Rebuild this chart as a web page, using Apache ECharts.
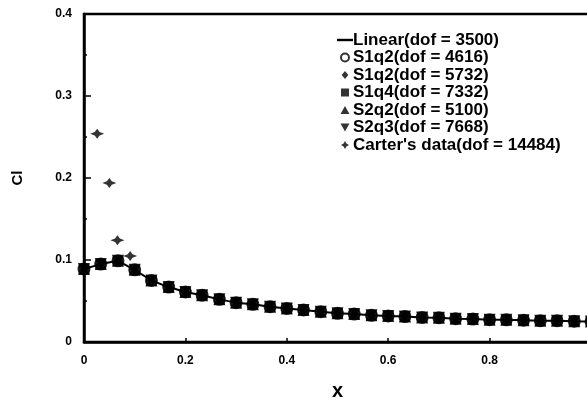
<!DOCTYPE html>
<html>
<head>
<meta charset="utf-8">
<script src="https://cdn.jsdelivr.net/npm/echarts@6/dist/echarts.min.js"></script>
<style>
  html, body { margin: 0; padding: 0; background: #fff; }
  #chart { width: 587px; height: 400px; }
</style>
</head>
<body>
<div id="chart"></div>
<script>
// Lift coefficient along the span, x = 0 .. 1 (stations every 1/30)
const xStations = [
  0, 0.033, 0.067, 0.1, 0.133, 0.167, 0.2, 0.233, 0.267, 0.3,
  0.333, 0.367, 0.4, 0.433, 0.467, 0.5, 0.533, 0.567, 0.6, 0.633,
  0.667, 0.7, 0.733, 0.767, 0.8, 0.833, 0.867, 0.9, 0.933, 0.967, 1
];
// All six discretisations coincide at plotting resolution
const clComputed = [
  0.089, 0.095, 0.099, 0.088, 0.075, 0.067, 0.061, 0.057, 0.052, 0.048,
  0.046, 0.043, 0.041, 0.039, 0.037, 0.035, 0.034, 0.0325, 0.0318, 0.031,
  0.030, 0.0296, 0.0285, 0.028, 0.0272, 0.027, 0.0265, 0.026, 0.026, 0.0253, 0.025
];
// Reference measurements
const carterX = [0.026, 0.05, 0.066, 0.091];
const carterCl = [0.254, 0.194, 0.124, 0.105];

const seriesNames = [
  'Linear(dof = 3500)',
  'S1q2(dof = 4616)',
  'S1q2(dof = 5732)',
  'S1q4(dof = 7332)',
  'S2q2(dof = 5100)',
  'S2q3(dof = 7668)',
  "Carter's data(dof = 14484)"
];
const xTicks = ['0', '0.2', '0.4', '0.6', '0.8', '1'];
const yTicks = ['0', '0.1', '0.2', '0.3', '0.4'];

const ink = '#000';
const starPath = 'path://M0,-10 L3.5,-3.5 L10,0 L3.5,3.5 L0,10 L-3.5,3.5 L-10,0 L-3.5,-3.5 Z';
const diamondPath = 'path://M5,0 L10,6 L5,12 L0,6 Z';
const squarePath = 'path://M0,0 L8,0 L8,8 L0,8 Z';
const triUpPath = 'path://M5,0 L10,9 L0,9 Z';
const triDownPath = 'path://M0,0 L10,0 L5,9 Z';

const pairs = (xs, ys) => xs.map((x, i) => [x, ys[i]]);
const computed = pairs(xStations, clComputed);

function markerSeries(name, symbol, size, extra) {
  return Object.assign({
    name: name,
    type: 'scatter',
    data: computed,
    symbol: symbol,
    symbolSize: size,
    itemStyle: { color: ink },
    silent: true,
    animation: false
  }, extra || {});
}

const chart = echarts.init(document.getElementById('chart'), null, { renderer: 'canvas' });
chart.setOption({
  animation: false,
  backgroundColor: '#fff',
  textStyle: { fontFamily: 'Liberation Sans', fontWeight: 'bold', color: ink },
  grid: {
    left: 84, right: -4, top: 14, bottom: 58,
    outerBoundsMode: 'none', containLabel: false,
    show: true, borderColor: ink, borderWidth: 2.5, backgroundColor: 'transparent'
  },
  legend: {
    orient: 'vertical',
    left: 337, top: 31.5,
    itemWidth: 16, itemHeight: 8,
    itemGap: 0.5,
    padding: 0,
    symbolKeepAspect: true,
    textStyle: { fontFamily: 'Liberation Sans', fontWeight: 'bold', fontSize: 17, lineHeight: 17, color: ink, padding: [0, 0, 0, -5] },
    data: [
      { name: seriesNames[0], icon: 'path://M0,0 L16,0 L16,2.4 L0,2.4 Z' },
      { name: seriesNames[1], icon: 'emptyCircle' },
      { name: seriesNames[2], icon: diamondPath },
      { name: seriesNames[3], icon: squarePath },
      { name: seriesNames[4], icon: triUpPath },
      { name: seriesNames[5], icon: triDownPath },
      { name: seriesNames[6], icon: starPath }
    ]
  },
  xAxis: {
    type: 'value', min: 0, max: 1, interval: 0.2,
    name: 'x', nameLocation: 'middle', nameGap: 39,
    nameTextStyle: { fontSize: 20, fontWeight: 'bold', color: ink },
    axisLine: { show: true, lineStyle: { color: ink, width: 2.5 } },
    axisTick: { show: true, inside: true, length: 4, lineStyle: { color: ink, width: 1.5 } },
    axisLabel: {
      showMaxLabel: false, margin: 13, fontSize: 12, fontWeight: 'bold', color: ink,
      formatter: (v) => xTicks[Math.round(v / 0.2)]
    },
    splitLine: { show: false }
  },
  yAxis: {
    type: 'value', min: 0, max: 0.4, interval: 0.1,
    name: 'Cl', nameLocation: 'middle', nameGap: 59, nameRotate: 90,
    nameTextStyle: { fontSize: 15, fontWeight: 'bold', color: ink },
    axisLine: { show: true, lineStyle: { color: ink, width: 2.5 } },
    axisTick: { show: true, inside: true, length: 7, lineStyle: { color: ink, width: 1.5 } },
    minorTick: { show: true, splitNumber: 2, length: 3, lineStyle: { color: ink, width: 1.5 } },
    axisLabel: {
      margin: 12, fontSize: 12, fontWeight: 'bold', color: ink,
      formatter: (v) => yTicks[Math.round(v / 0.1)]
    },
    splitLine: { show: false }
  },
  series: [
    {
      name: seriesNames[0], type: 'line', data: computed,
      showSymbol: false, symbol: 'none',
      lineStyle: { color: ink, width: 2 }, itemStyle: { color: ink },
      silent: true, animation: false
    },
    markerSeries(seriesNames[1], 'emptyCircle', 11, { itemStyle: { color: ink, borderColor: ink, borderWidth: 2 } }),
    markerSeries(seriesNames[2], diamondPath, [9, 11]),
    markerSeries(seriesNames[3], squarePath, 11),
    markerSeries(seriesNames[4], triUpPath, 12),
    markerSeries(seriesNames[5], triDownPath, 12),
    {
      name: seriesNames[6], type: 'scatter',
      data: pairs(carterX, carterCl),
      symbol: starPath, symbolSize: [14, 10],
      itemStyle: { color: ink }, silent: true, animation: false
    }
  ]
});
</script>
</body>
</html>
